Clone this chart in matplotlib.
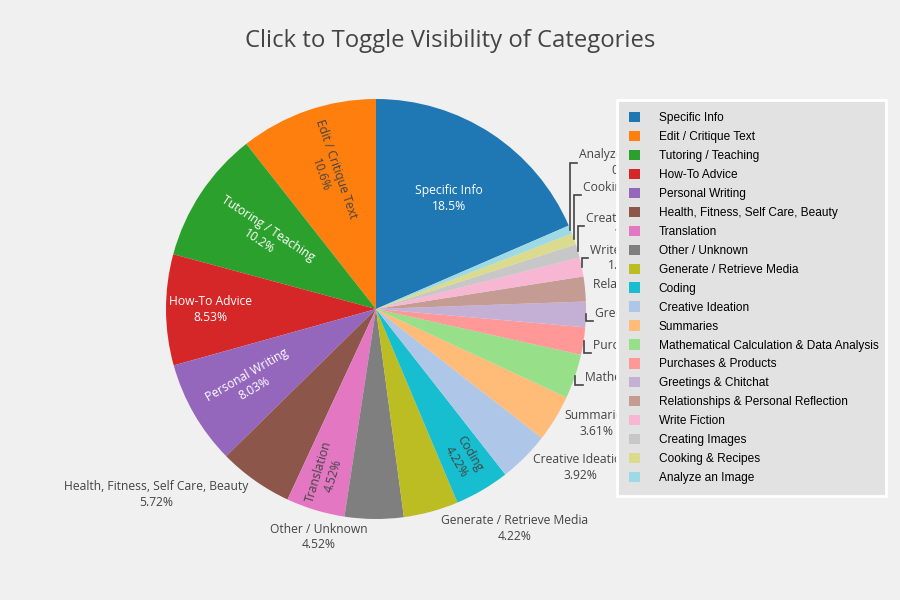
import numpy as np
import matplotlib.pyplot as plt
from matplotlib.patches import Patch

# Category shares (percent), in the order of the legend
categories = ['Specific Info', 'Edit / Critique Text', 'Tutoring / Teaching', 'How-To Advice',
              'Personal Writing', 'Health, Fitness, Self Care, Beauty', 'Translation',
              'Other / Unknown', 'Generate / Retrieve Media', 'Coding', 'Creative Ideation',
              'Summaries', 'Mathematical Calculation & Data Analysis', 'Purchases & Products',
              'Greetings & Chitchat', 'Relationships & Personal Reflection', 'Write Fiction',
              'Creating Images', 'Cooking & Recipes', 'Analyze an Image']
shares = [18.5, 10.6, 10.2, 8.53, 8.03, 5.72, 4.52, 4.52, 4.22, 4.22, 3.92, 3.61,
          3.41, 2.11, 1.96, 1.91, 1.46, 1.04, 0.87, 0.65]

colors = ['#1f77b4', '#ff7f0e', '#2ca02c', '#d62728', '#9467bd', '#8c564b', '#e377c2',
          '#7f7f7f', '#bcbd22', '#17becf', '#aec7e8', '#ffbb78', '#98df8a', '#ff9896',
          '#c5b0d5', '#c49c94', '#f7b6d2', '#c7c7c7', '#dbdb8d', '#9edae5']

BG = '#f0f0f0'
DARK = '#444444'
FONT = 'Open Sans'

# inside labels: radius fraction, radial text?, text colour
inside = {
    0: (0.63, False, 'white'),
    1: (0.69, True, DARK),
    2: (0.64, True, 'white'),
    3: (0.79, False, 'white'),
    4: (0.69, True, 'white'),
    6: (0.82, True, DARK),
    9: (0.82, True, DARK),
}
# outside labels: alignment, offset from slice edge in px (x right, y down), leader line
outside = {
    5: ('right', -7, 14, False),
    7: ('right', -7, 18, False),
    8: ('left', 10, 17, False),
    10: ('left', 8, 10, False),
    11: ('left', 9, 5, False),
    12: ('left', 10, 9, True),
    13: ('left', 9, 12, True),
    14: ('left', 9, 7, True),
    15: ('left', 8, 3, False),
    16: ('left', 8, -9, True),
    17: ('left', 8, -25, True),
    18: ('left', 9, -44, True),
    19: ('left', 9, -67, True),
}

W, H = 900, 600
cx, cy, R = 376, 309, 210

fig = plt.figure(figsize=(9, 6), dpi=100, facecolor=BG)
ax = fig.add_axes([(cx - R) / W, (H - cy - R) / H, 2 * R / W, 2 * R / H])
ax.set_facecolor(BG)

start = 90 - 360 * shares[0] / sum(shares)
wedges, _ = ax.pie(shares, colors=colors, startangle=start, counterclock=True,
                   radius=1, wedgeprops=dict(linewidth=0))
ax.set_xlim(-1, 1)
ax.set_ylim(-1, 1)
ax.set_aspect('equal')
ax.axis('off')

total = sum(shares)
for i, w in enumerate(wedges):
    mid = np.deg2rad((w.theta1 + w.theta2) / 2)
    pct = '{:.3g}%'.format(100 * shares[i] / total)
    txt = categories[i] + '\n' + pct
    if i in inside:
        r, radial, col = inside[i]
        rot = 0
        if radial:
            rot = np.rad2deg(mid) - 180
            if rot > 90:
                rot -= 360
            if rot < -90:
                rot += 180
        ax.text(r * np.cos(mid), r * np.sin(mid), txt, color=col, fontsize=8.7,
                family=FONT, ha='center', va='center', rotation=rot,
                rotation_mode='anchor', linespacing=1.25)
    elif i in outside:
        ha, dx, dy, line = outside[i]
        ex, ey = np.cos(mid), np.sin(mid)
        tx, ty = ex + dx / R, ey - dy / R
        if line:
            ax.plot([ex, ex, tx - 2 / R], [ey, ty, ty], color=DARK, lw=1.2,
                    clip_on=False, solid_joinstyle='miter')
        ax.text(tx, ty, txt, color=DARK, fontsize=8.7, family=FONT, ha=ha,
                va='center', multialignment='center', linespacing=1.25,
                clip_on=False)

fig.text(0.5, 1 - 41 / H, 'Click to Toggle Visibility of Categories', ha='center',
         va='center', fontsize=17.2, family=FONT, color=DARK)

handles = [Patch(facecolor=c, edgecolor='none') for c in colors]
leg = fig.legend(handles, categories, loc='upper left', mode='expand',
                 bbox_to_anchor=(617 / W, 1 - 493 / H, 269 / W, 393 / H),
                 frameon=True, fancybox=False,
                 facecolor='#e2e2e2', edgecolor='white', framealpha=1,
                 prop={'family': 'Liberation Sans', 'size': 8.6},
                 handlelength=0.95, handleheight=0.95, handletextpad=1.55,
                 labelspacing=0.56, borderpad=1.0, borderaxespad=0)
leg.get_frame().set_linewidth(2)

fig.savefig('out.png', dpi=100, facecolor=BG)
